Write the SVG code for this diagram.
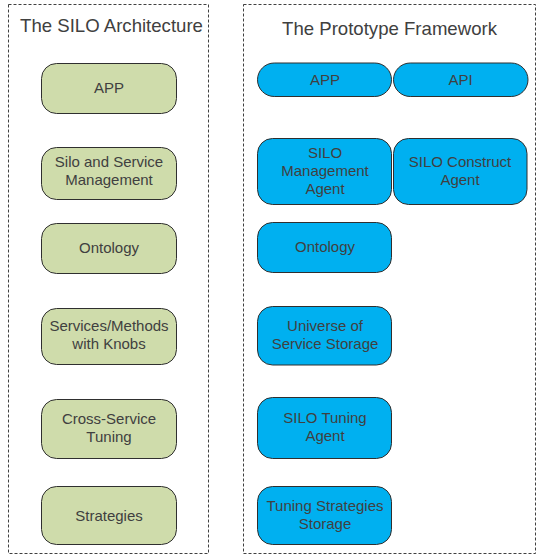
<svg xmlns="http://www.w3.org/2000/svg" width="540" height="556" viewBox="0 0 540 556">
<style>
.panel{fill:none;stroke:#404040;stroke-width:1;stroke-dasharray:3,2}
.g{fill:#CFDCAB;stroke:#2F2F2F;stroke-width:1}
.b{fill:#00B0F0;stroke:#2F2F2F;stroke-width:1}
text{font-family:"Liberation Sans",Arial,sans-serif;fill:#404040;text-anchor:middle}
.t{font-size:15px}
.h{font-size:18.6px}
</style>
<rect width="540" height="556" fill="#fff"/>
<g id="panel-left">
<rect class="panel" x="8.5" y="4.5" width="200" height="549"/>
<text class="h" x="111.5" y="32">The SILO Architecture</text>
</g>
<g id="panel-right">
<rect class="panel" x="243.5" y="4.5" width="292" height="549"/>
<text class="h" x="389.5" y="35">The Prototype Framework</text>
</g>
<g id="l-app"><rect class="g" x="41.5" y="63.5" width="135" height="50" rx="15"/><text class="t" x="109" y="93">APP</text></g>
<g id="l-silo"><rect class="g" x="41.5" y="147.5" width="135" height="52" rx="15"/><text class="t" x="109" y="167">Silo and Service</text><text class="t" x="109" y="185">Management</text></g>
<g id="l-ontology"><rect class="g" x="41.5" y="223.5" width="135" height="50" rx="15"/><text class="t" x="109" y="253">Ontology</text></g>
<g id="l-services"><rect class="g" x="41.5" y="308.5" width="135" height="56" rx="15"/><text class="t" x="109" y="331">Services/Methods</text><text class="t" x="109" y="349">with Knobs</text></g>
<g id="l-cross"><rect class="g" x="41.5" y="399.5" width="135" height="59" rx="15"/><text class="t" x="109" y="424">Cross-Service</text><text class="t" x="109" y="442">Tuning</text></g>
<g id="l-strategies"><rect class="g" x="41.5" y="486.5" width="135" height="58" rx="15"/><text class="t" x="109" y="521">Strategies</text></g>
<g id="r-app"><rect class="b" x="257.5" y="63" width="134" height="33.5" rx="16.75"/><text class="t" x="325" y="85">APP</text></g>
<g id="r-api"><rect class="b" x="393.5" y="63" width="134.5" height="33.5" rx="16.75"/><text class="t" x="460.5" y="85">API</text></g>
<g id="r-silo-mgmt"><rect class="b" x="257.5" y="138.5" width="134" height="66" rx="15"/><text class="t" x="325" y="158">SILO</text><text class="t" x="325" y="176">Management</text><text class="t" x="325" y="194">Agent</text></g>
<g id="r-silo-construct"><rect class="b" x="393.5" y="138.5" width="133.5" height="66" rx="15"/><text class="t" x="460" y="167">SILO Construct</text><text class="t" x="460" y="185">Agent</text></g>
<g id="r-ontology"><rect class="b" x="257.5" y="222.5" width="134" height="50" rx="15"/><text class="t" x="325" y="252">Ontology</text></g>
<g id="r-universe"><rect class="b" x="257.5" y="306.5" width="134" height="58.5" rx="15"/><text class="t" x="325" y="331">Universe of</text><text class="t" x="325" y="349">Service Storage</text></g>
<g id="r-tuning"><rect class="b" x="257.5" y="397.5" width="134" height="61" rx="15"/><text class="t" x="325" y="423">SILO Tuning</text><text class="t" x="325" y="441">Agent</text></g>
<g id="r-strategies"><rect class="b" x="257.5" y="486.5" width="134" height="58" rx="15"/><text class="t" x="325" y="511">Tuning Strategies</text><text class="t" x="325" y="529">Storage</text></g>
<g id="connectors"></g>
</svg>
